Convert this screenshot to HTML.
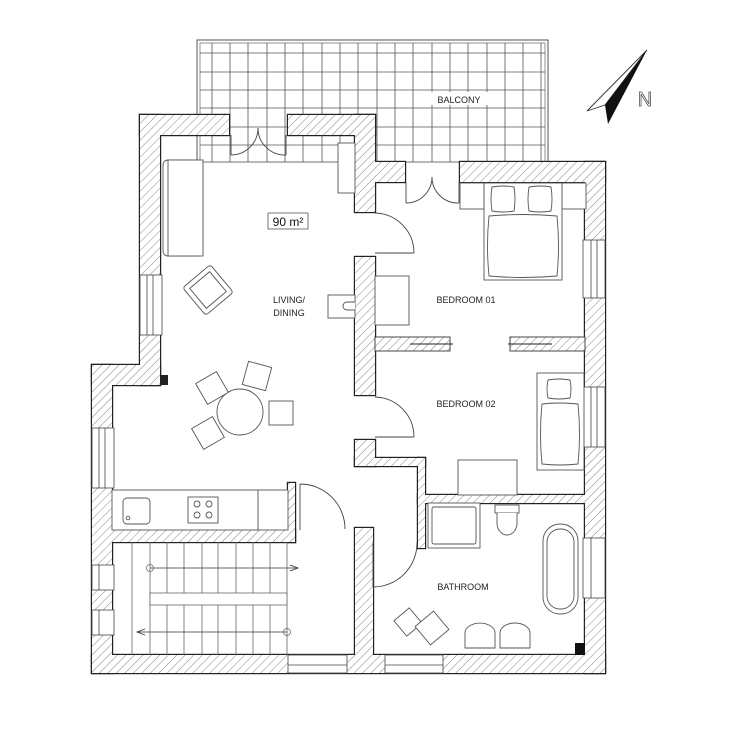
<!DOCTYPE html>
<html><head><meta charset="utf-8"><style>
html,body{margin:0;padding:0;background:#fff;}
svg{display:block;font-family:"Liberation Sans",sans-serif;}
</style></head><body>
<svg width="731" height="746" viewBox="0 0 731 746" xmlns="http://www.w3.org/2000/svg">
<defs>
<pattern id="h" width="6" height="6" patternUnits="userSpaceOnUse" patternTransform="rotate(45)">
<rect width="6" height="6" fill="#fff"/><line x1="0" y1="0" x2="0" y2="6" stroke="#666" stroke-width="0.8"/>
</pattern>
<g id="walls">
<rect x="140" y="115" width="89" height="20"/>
<rect x="288" y="115" width="87" height="20"/>
<rect x="140" y="115" width="20" height="270"/>
<rect x="92" y="365" width="68" height="20"/>
<rect x="92" y="365" width="20" height="308"/>
<rect x="92" y="655" width="513" height="18"/>
<rect x="585" y="162" width="20" height="511"/>
<rect x="460" y="162" width="145" height="20"/>
<rect x="355" y="162" width="50" height="20"/>
<rect x="355" y="115" width="20" height="97"/>
<rect x="355" y="257" width="20" height="138"/>
<rect x="355" y="440" width="20" height="26"/>
<rect x="355" y="458" width="70" height="8"/>
<rect x="418" y="458" width="7" height="90"/>
<rect x="418" y="495" width="167" height="8"/>
<rect x="355" y="528" width="18" height="127"/>
<rect x="112" y="530" width="183" height="12"/>
<rect x="288" y="483" width="7" height="59"/>
</g>
</defs>
<rect width="731" height="746" fill="#fff"/>

<!-- Balcony -->
<rect x="197" y="40" width="351" height="122" fill="#fff" stroke="#555" stroke-width="1"/>
<rect x="200" y="43" width="345" height="119" fill="none" stroke="#777" stroke-width="0.8"/>
<g stroke="#555" stroke-width="0.8">
<line x1="212" y1="43" x2="212" y2="162"/><line x1="230" y1="43" x2="230" y2="162"/><line x1="248" y1="43" x2="248" y2="162"/>
<line x1="267" y1="43" x2="267" y2="162"/><line x1="285" y1="43" x2="285" y2="162"/><line x1="303" y1="43" x2="303" y2="162"/>
<line x1="322" y1="43" x2="322" y2="162"/><line x1="340" y1="43" x2="340" y2="162"/><line x1="358" y1="43" x2="358" y2="162"/>
<line x1="377" y1="43" x2="377" y2="162"/><line x1="395" y1="43" x2="395" y2="162"/><line x1="413" y1="43" x2="413" y2="162"/>
<line x1="432" y1="43" x2="432" y2="162"/><line x1="450" y1="43" x2="450" y2="162"/><line x1="468" y1="43" x2="468" y2="162"/>
<line x1="487" y1="43" x2="487" y2="162"/><line x1="505" y1="43" x2="505" y2="162"/><line x1="523" y1="43" x2="523" y2="162"/>
<line x1="541" y1="43" x2="541" y2="162"/>
<line x1="200" y1="53" x2="545" y2="53"/><line x1="200" y1="72" x2="545" y2="72"/><line x1="200" y1="90" x2="545" y2="90"/>
<line x1="200" y1="108" x2="545" y2="108"/><line x1="200" y1="127" x2="545" y2="127"/><line x1="200" y1="145" x2="545" y2="145"/>
</g>
<rect x="428" y="92" width="62" height="13" fill="#fff"/>
<text x="459" y="103" font-size="9" text-anchor="middle" fill="#222">BALCONY</text>

<!-- Walls: outline layer then fill layer to merge -->
<use href="#walls" fill="#222" stroke="#222" stroke-width="2.4"/>
<use href="#walls" fill="url(#h)" stroke="none"/>
<rect x="160" y="375" width="8" height="10" fill="#222"/>
<rect x="575" y="643" width="10" height="12" fill="#111"/>

<!-- Windows -->
<g fill="#fff" stroke="#444" stroke-width="0.8">
<rect x="140" y="275" width="22" height="60"/><line x1="147" y1="275" x2="147" y2="335"/><line x1="153" y1="275" x2="153" y2="335"/>
<rect x="92" y="428" width="22" height="60"/><line x1="99" y1="428" x2="99" y2="488"/><line x1="105" y1="428" x2="105" y2="488"/>
<rect x="92" y="565" width="22" height="25"/><line x1="99" y1="565" x2="99" y2="590"/>
<rect x="92" y="610" width="22" height="25"/><line x1="99" y1="610" x2="99" y2="635"/>
<rect x="583" y="240" width="22" height="58"/><line x1="591" y1="240" x2="591" y2="298"/><line x1="597" y1="240" x2="597" y2="298"/>
<rect x="583" y="387" width="22" height="60"/><line x1="591" y1="387" x2="591" y2="447"/><line x1="597" y1="387" x2="597" y2="447"/>
<rect x="583" y="538" width="22" height="60"/><line x1="591" y1="538" x2="591" y2="598"/>
<rect x="288" y="655" width="59" height="18"/><line x1="288" y1="665" x2="347" y2="665"/>
<rect x="385" y="655" width="58" height="18"/><line x1="385" y1="665" x2="443" y2="665"/>
</g>

<!-- Doors -->
<g fill="none" stroke="#444" stroke-width="0.9">
<line x1="231" y1="135" x2="231" y2="155"/><line x1="286" y1="135" x2="286" y2="155"/>
<path d="M231 155 A27 27 0 0 0 258 128"/><path d="M286 155 A27 27 0 0 1 258 128"/>
<line x1="406" y1="182" x2="406" y2="203"/><line x1="459" y1="182" x2="459" y2="203"/>
<path d="M406 203 A26 26 0 0 0 432 177"/><path d="M459 203 A26 26 0 0 1 432 177"/>
<line x1="375" y1="253" x2="414" y2="253"/><path d="M375 213 A40 40 0 0 1 414 253"/>
<line x1="375" y1="437" x2="414" y2="437"/><path d="M375 397 A40 40 0 0 1 414 437"/>
<line x1="300" y1="484" x2="300" y2="530"/><path d="M300 484 A45 45 0 0 1 345 529"/>
<line x1="373" y1="587" x2="373" y2="542"/><path d="M417 542 A44 44 0 0 1 373 587"/>
</g>

<!-- Wardrobe partitions -->
<g fill="url(#h)" stroke="#333" stroke-width="0.9">
<rect x="375" y="337" width="75" height="14"/>
<rect x="510" y="337" width="75" height="14"/>
</g>
<g stroke="#222" stroke-width="1"><line x1="410" y1="344" x2="453" y2="344"/><line x1="508" y1="344" x2="552" y2="344"/></g>

<!-- Furniture -->
<g fill="#fff" stroke="#555" stroke-width="0.9">
<rect x="163" y="160" width="40" height="96" rx="5"/><rect x="168" y="160" width="35" height="96"/>
<g transform="rotate(-40 208 290)"><rect x="190" y="272" width="36" height="36" rx="3"/><rect x="195" y="277" width="26" height="26"/></g>
<rect x="338" y="143" width="17" height="50"/>
<rect x="328" y="295" width="27" height="23"/><path d="M355 302 h-8 a4 4 0 0 0 0 8 h8"/>
<rect x="375" y="276" width="34" height="49"/>
<rect x="460" y="183" width="24" height="26"/><rect x="562" y="183" width="24" height="26"/>
<rect x="484" y="183" width="78" height="97"/>
<path d="M492 187 q12 -2 22 0 q2 12 0 24 q-11 2 -22 0 q-2 -12 0 -24z"/>
<path d="M529 187 q12 -2 22 0 q2 12 0 24 q-11 2 -22 0 q-2 -12 0 -24z"/>
<path d="M489 216 q34 -3 68 0 q3 30 0 60 q-34 3 -68 0 q-3 -30 0 -60z"/>
<rect x="537" y="373" width="47" height="97"/>
<path d="M548 380 q11 -2 22 0 q2 9 0 18 q-11 2 -22 0 q-2 -9 0 -18z"/>
<path d="M542 404 q17 -2 36 0 q3 30 0 60 q-18 2 -36 0 q-3 -30 0 -60z"/>
<rect x="458" y="460" width="59" height="35"/>
<circle cx="240" cy="412" r="23"/>
<g transform="rotate(-30 212 388)"><rect x="200" y="376" width="24" height="24"/></g>
<g transform="rotate(15 257 376)"><rect x="245" y="364" width="24" height="24"/></g>
<rect x="269" y="401" width="24" height="24"/>
<g transform="rotate(-30 208 433)"><rect x="196" y="421" width="24" height="24"/></g>
<rect x="112" y="490" width="176" height="40"/><line x1="258" y1="490" x2="258" y2="530"/>
<rect x="123" y="498" width="27" height="26" rx="4"/><circle cx="128" cy="518" r="1.8"/>
<rect x="188" y="497" width="30" height="26"/>
<circle cx="197" cy="504" r="3"/><circle cx="209" cy="504" r="3"/><circle cx="197" cy="515" r="3"/><circle cx="209" cy="515" r="3"/>
<rect x="428" y="503" width="52" height="45"/><rect x="432" y="507" width="44" height="37" rx="2"/>
<rect x="495" y="505" width="24" height="8"/><path d="M497 513 v10 a10 12 0 0 0 20 0 v-10"/>
<rect x="543" y="524" width="35" height="90" rx="17"/><rect x="547" y="529" width="27" height="80" rx="13"/>
<path d="M465 648 v-15 a15 10 0 0 1 30 0 v15z"/><path d="M500 648 v-15 a15 10 0 0 1 30 0 v15z"/>
<g transform="rotate(-40 408 622)"><rect x="398" y="612" width="20" height="20"/></g>
<g transform="rotate(-40 432 628)"><rect x="420" y="616" width="24" height="24"/></g>
</g>

<!-- Stairs -->
<g stroke="#666" stroke-width="0.8" fill="none">
<line x1="132" y1="542" x2="132" y2="655"/><line x1="150" y1="542" x2="150" y2="655"/><line x1="167" y1="542" x2="167" y2="655"/>
<line x1="184" y1="542" x2="184" y2="655"/><line x1="202" y1="542" x2="202" y2="655"/><line x1="218" y1="542" x2="218" y2="655"/>
<line x1="236" y1="542" x2="236" y2="655"/><line x1="253" y1="542" x2="253" y2="655"/><line x1="270" y1="542" x2="270" y2="655"/>
<line x1="287" y1="542" x2="287" y2="655"/>
<rect x="150" y="593" width="137" height="12" fill="#fff"/>
<line x1="150" y1="568" x2="298" y2="568" stroke="#333"/><circle cx="150" cy="568" r="3.5"/>
<path d="M290 565 L298 568 L290 571" stroke="#333"/>
<line x1="137" y1="632" x2="287" y2="632" stroke="#333"/><circle cx="287" cy="632" r="3.5"/>
<path d="M145 629 L137 632 L145 635" stroke="#333"/>
</g>

<!-- Labels -->
<rect x="268" y="213" width="40" height="16" fill="#fff" stroke="#555" stroke-width="0.8"/>
<text x="288" y="226" font-size="12" text-anchor="middle" fill="#111">90 m²</text>
<g font-size="9" fill="#222" text-anchor="middle">
<text x="289" y="303">LIVING/</text><text x="289" y="316">DINING</text>
<text x="466" y="303">BEDROOM 01</text>
<text x="466" y="407">BEDROOM 02</text>
<text x="463" y="590">BATHROOM</text>
</g>

<!-- North arrow -->
<polygon points="647,50 587,111 605,105" fill="#fff" stroke="#333" stroke-width="0.9"/>
<polygon points="647,50 605,105 608,124" fill="#111"/>
<text x="645" y="106" font-size="20" text-anchor="middle" fill="#fff" stroke="#555" stroke-width="0.8">N</text>
</svg>
</body></html>
